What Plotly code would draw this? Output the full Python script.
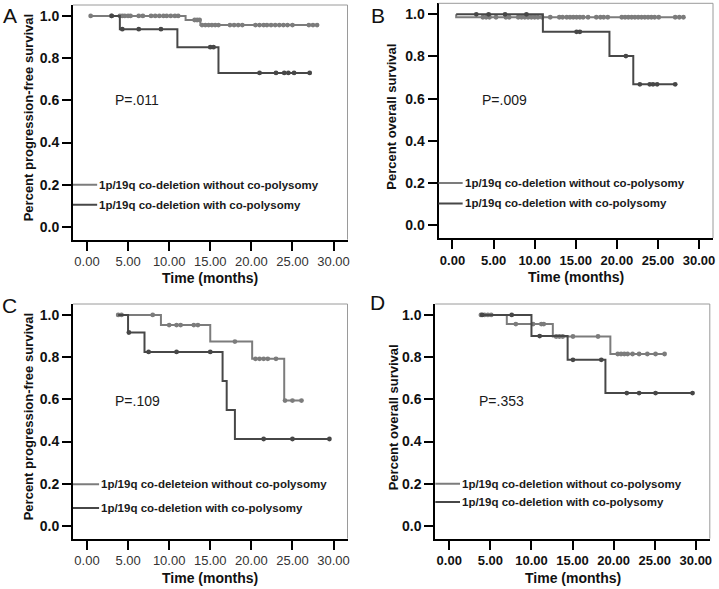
import plotly.graph_objects as go

# ---------------- data ----------------
x_ticks = [0, 5, 10, 15, 20, 25, 30]
y_ticks = [0.0, 0.2, 0.4, 0.6, 0.8, 1.0]

legend_A = ["1p/19q co-deletion without co-polysomy", "1p/19q co-deletion with co-polysomy"]
legend_C = ["1p/19q co-deleteion without co-polysomy", "1p/19q co-deletion with co-polysomy"]
p_values = ["P=.011", "P=.009", "P=.109", "P=.353"]
panel_letters = ["A", "B", "C", "D"]
y_titles = ["Percent progression-free survival", "Percent overall survival",
            "Percent progression-free survival", "Percent overall survival"]
x_title = "Time (months)"

# Panel A (progression-free survival)
A_wo_start = 0.45
A_wo_event_t = [12.0, 13.8]
A_wo_event_s = [0.981, 0.957]
A_wo_censor = [0.45, 3.0, 4.0, 4.3, 4.6, 5.0, 5.3, 6.3, 6.8, 7.8, 8.3, 8.8, 9.3, 9.7, 10.2,
               10.7, 11.1, 13.1, 13.4, 13.7, 14.0, 14.4, 14.8, 15.2, 15.6, 16.0, 17.4, 17.9,
               18.4, 18.9, 20.5, 21.0, 21.5, 21.9, 22.4, 22.9, 23.4, 23.9, 24.4, 25.0, 27.0,
               27.5, 28.0]
A_w_start = 3.0
A_w_event_t = [4.0, 11.0, 16.0]
A_w_event_s = [0.9375, 0.852, 0.730]
A_w_censor = [3.0, 4.3, 6.3, 9.0, 15.0, 15.4, 21.0, 23.0, 24.0, 24.5, 25.2, 27.1]

# Panel B (overall survival)
B_wo_start = 0.45
B_wo_event_t = [0.45]
B_wo_event_s = [0.986]
B_wo_censor = [3.7, 4.1, 4.5, 5.3, 6.5, 6.9, 8.0, 8.4, 8.8, 9.2, 9.6, 10.0, 10.4, 10.9, 11.9,
               13.0, 13.4, 13.9, 14.3, 14.7, 15.1, 15.5, 15.9, 16.5, 17.5, 18.0, 18.4, 18.9,
               20.6, 21.0, 21.4, 21.8, 22.2, 22.6, 23.0, 23.4, 23.8, 24.2, 24.6, 25.1, 27.1,
               27.6, 28.1]
B_w_start = 0.45
B_w_event_t = [11.0, 19.1, 22.0]
B_w_event_s = [0.917, 0.802, 0.668]
B_w_censor = [2.9, 4.4, 6.4, 9.0, 15.1, 15.5, 21.1, 22.8, 24.0, 24.4, 24.9, 27.1]

# Panel C (progression-free survival)
C_wo_start = 3.8
C_wo_event_t = [9.0, 15.0, 20.1, 24.0]
C_wo_event_s = [0.952, 0.874, 0.792, 0.594]
C_wo_censor = [3.8, 4.2, 8.0, 10.0, 10.9, 11.4, 13.0, 13.5, 18.0, 20.5, 21.0, 21.5, 22.0,
               23.0, 24.1, 25.0, 26.1]
C_w_start = 3.8
C_w_event_t = [5.0, 7.0, 16.5, 17.0, 18.0]
C_w_event_s = [0.917, 0.825, 0.687, 0.550, 0.412]
C_w_censor = [5.1, 7.5, 10.9, 15.0, 21.5, 25.0, 29.5]

# Panel D (overall survival)
D_wo_start = 3.85
D_wo_event_t = [7.0, 12.6, 19.6]
D_wo_event_s = [0.957, 0.898, 0.815]
D_wo_censor = [3.85, 4.3, 4.7, 5.1, 8.1, 10.2, 11.2, 11.5, 13.0, 13.4, 13.8, 15.05, 18.1,
               20.5, 20.9, 21.3, 21.7, 22.3, 23.1, 24.1, 25.1, 26.2]
D_w_start = 3.85
D_w_event_t = [10.0, 14.4, 19.0]
D_w_event_s = [0.900, 0.7875, 0.630]
D_w_censor = [4.0, 7.6, 11.0, 15.05, 18.5, 21.6, 23.1, 25.1, 29.6]

# ---------------- styling / layout ----------------
W, H = 719, 589
COL_WO = "#7c7c7c"
COL_W = "#474747"
FONT = "Liberation Sans, Arial, sans-serif"

# panel plot-area pixel boxes (left, right, top, bottom)
boxes = [(73, 347.5, 5, 239.6), (438.5, 713, 3.3, 238),
         (73, 347.5, 304, 538.6), (435.3, 709.8, 304, 538.6)]
XR = [-1.7, 31.7]
YR = [-0.06, 1.052]

fig = go.Figure()


def step_value(t, ev_t, ev_s):
    s = 1.0
    for et, es in zip(ev_t, ev_s):
        if et <= t:
            s = es
    return s


def add_curve(start, ev_t, ev_s, censor, color, idx):
    xa = "x" if idx == 1 else f"x{idx}"
    ya = "y" if idx == 1 else f"y{idx}"
    t_end = max(censor + ev_t)
    xs = [start] + ev_t + [t_end]
    ys = [1.0] + ev_s + [ev_s[-1]]
    fig.add_trace(go.Scatter(x=xs, y=ys, mode="lines", line=dict(color=color, width=2, shape="hv"),
                             xaxis=xa, yaxis=ya, showlegend=False, hoverinfo="skip"))
    cy = [step_value(c, ev_t, ev_s) for c in censor]
    fig.add_trace(go.Scatter(x=censor, y=cy, mode="markers",
                             marker=dict(color=color, size=4.8, symbol="circle"),
                             xaxis=xa, yaxis=ya, showlegend=False, hoverinfo="skip"))


curves = [
    (1, (A_wo_start, A_wo_event_t, A_wo_event_s, A_wo_censor), (A_w_start, A_w_event_t, A_w_event_s, A_w_censor)),
    (2, (B_wo_start, B_wo_event_t, B_wo_event_s, B_wo_censor), (B_w_start, B_w_event_t, B_w_event_s, B_w_censor)),
    (3, (C_wo_start, C_wo_event_t, C_wo_event_s, C_wo_censor), (C_w_start, C_w_event_t, C_w_event_s, C_w_censor)),
    (4, (D_wo_start, D_wo_event_t, D_wo_event_s, D_wo_censor), (D_w_start, D_w_event_t, D_w_event_s, D_w_censor)),
]
for idx, wo, w in curves:
    add_curve(*wo, COL_WO, idx)
    add_curve(*w, COL_W, idx)

layout = dict(width=W, height=H, margin=dict(l=0, r=0, t=0, b=0, pad=0, autoexpand=False),
              paper_bgcolor="white", plot_bgcolor="white", showlegend=False,
              font=dict(family=FONT, color="#111"))

shapes = []
annotations = []
legend_y = [(0.2, 0.105), (0.2, 0.104), (0.198, 0.085), (0.2, 0.113)]
legend_len = [0.088, 0.088, 0.095, 0.09]
pv_pos = [(3.17, 0.6), (3.37, 0.595), (3.17, 0.59), (3.36, 0.59)]
letter_pos = [(9.5, 15), (378, 15), (9.5, 305), (377.5, 302)]
ytitle_x = [28, 392, 28, 393]
xtitle_y = [278, 277, 578, 578]
xtick_bold = [False, True, False, True]

for i, (l, r, t, b) in enumerate(boxes):
    n = i + 1
    xk = "xaxis" if n == 1 else f"xaxis{n}"
    yk = "yaxis" if n == 1 else f"yaxis{n}"
    xa = "x" if n == 1 else f"x{n}"
    ya = "y" if n == 1 else f"y{n}"
    layout[xk] = dict(domain=[l / W, r / W], range=XR, anchor=ya, automargin=False,
                      tickvals=x_ticks, tickformat=".2f", ticks="outside", ticklen=9, tickwidth=2,
                      tickcolor="black", showline=True, linewidth=2, linecolor="black",
                      showgrid=False, zeroline=False,
                      tickfont=dict(size=13, family=FONT,
                                    color="#111" if xtick_bold[i] else "#333",
                                    weight="bold" if xtick_bold[i] else "normal"))
    layout[yk] = dict(domain=[1 - b / H, 1 - t / H], range=YR, anchor=xa, automargin=False,
                      tickvals=y_ticks, tickformat=".1f", ticks="outside", ticklen=9, tickwidth=2,
                      tickcolor="black", showline=True, linewidth=2, linecolor="black",
                      showgrid=False, zeroline=False,
                      tickfont=dict(size=14, family=FONT, color="#111", weight="bold"))
    # thin top / right frame
    shapes.append(dict(type="line", xref=f"{xa} domain", yref=f"{ya} domain", x0=0, x1=1, y0=1, y1=1,
                       line=dict(color="#9a9a9a", width=1)))
    shapes.append(dict(type="line", xref=f"{xa} domain", yref=f"{ya} domain", x0=1, x1=1, y0=0, y1=1,
                       line=dict(color="#9a9a9a", width=1)))
    # legend lines + texts
    labels = legend_C if n == 3 else legend_A
    for k, (lab, col) in enumerate(zip(labels, [COL_WO, COL_W])):
        yy = legend_y[i][k]
        shapes.append(dict(type="line", xref=f"{xa} domain", yref=ya, x0=0, x1=legend_len[i],
                           y0=yy, y1=yy, line=dict(color=col, width=2)))
        annotations.append(dict(text=f"<b>{lab}</b>", xref=f"{xa} domain", yref=ya,
                                x=legend_len[i], y=yy, xanchor="left", yanchor="middle",
                                showarrow=False, font=dict(size=11.5, family=FONT, color="#1a1a1a")))
    # p-value
    annotations.append(dict(text=p_values[i], xref=xa, yref=ya, x=pv_pos[i][0], y=pv_pos[i][1],
                            xanchor="left", yanchor="middle", showarrow=False,
                            font=dict(size=14, family=FONT, color="#1a1a1a")))
    # panel letter
    annotations.append(dict(text=panel_letters[i], xref="paper", yref="paper",
                            x=letter_pos[i][0] / W, y=1 - letter_pos[i][1] / H,
                            xanchor="center", yanchor="middle", showarrow=False,
                            font=dict(size=21, family=FONT, color="#111")))
    # y title
    annotations.append(dict(text=f"<b>{y_titles[i]}</b>", xref="paper", yref="paper",
                            x=ytitle_x[i] / W, y=1 - ((t + b) / 2 - 4) / H, textangle=-90,
                            xanchor="center", yanchor="middle", showarrow=False,
                            font=dict(size=13, family=FONT, color="#111")))
    # x title
    annotations.append(dict(text=f"<b>{x_title}</b>", xref=f"{xa} domain", yref="paper",
                            x=0.5, y=1 - xtitle_y[i] / H,
                            xanchor="center", yanchor="middle", showarrow=False,
                            font=dict(size=14, family=FONT, color="#111")))

layout["shapes"] = shapes
layout["annotations"] = annotations
fig.update_layout(**layout)
fig.write_html("out.html", config={"displayModeBar": False, "staticPlot": True},
               post_script="document.body.style.margin='0px';document.body.style.overflow='hidden';")
